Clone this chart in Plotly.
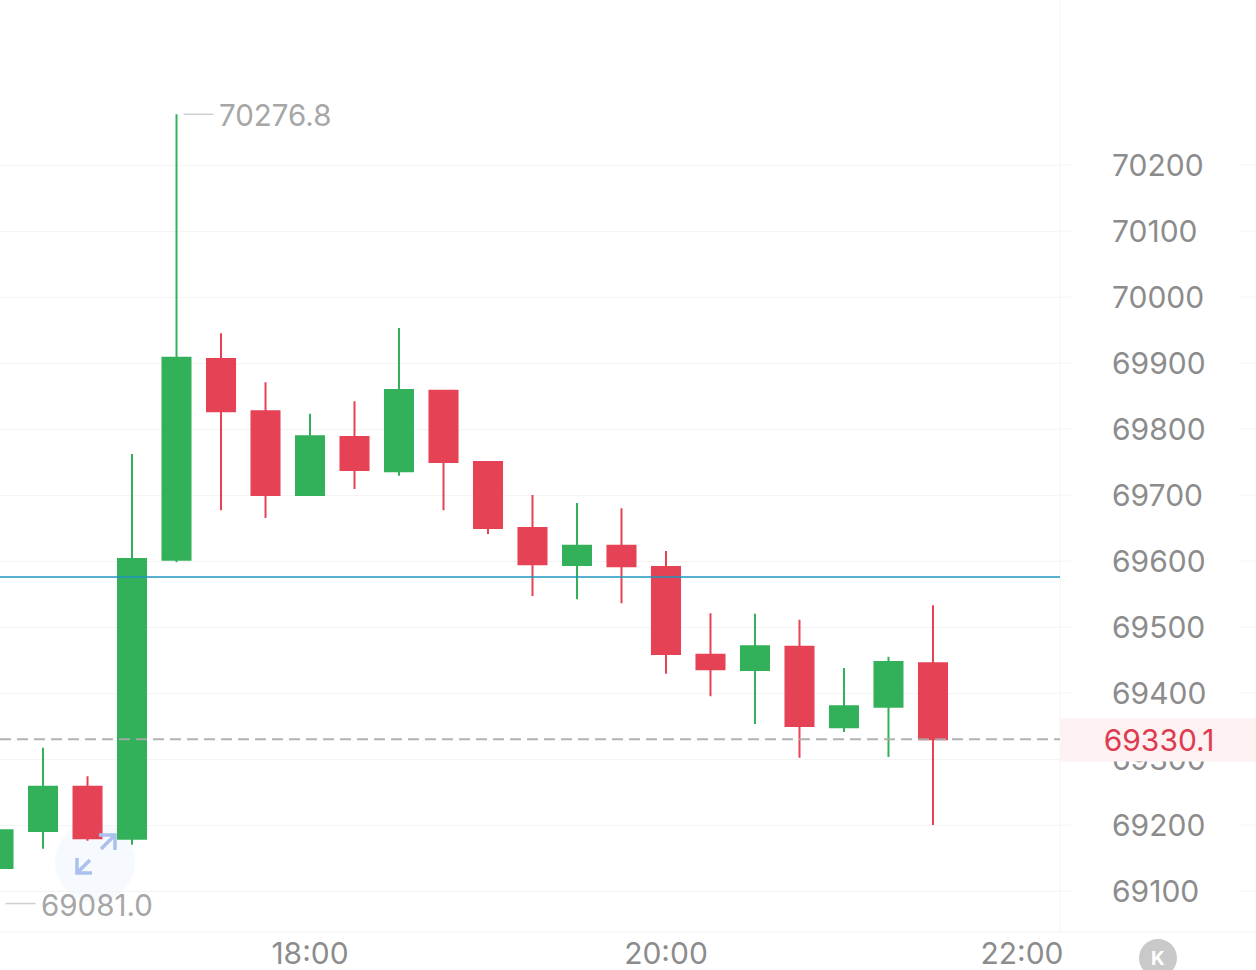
import plotly.graph_objects as go

WIDTH = 1256
HEIGHT = 970
PLOT_RIGHT = 1060
PLOT_BOTTOM = 932

candle_times = [
    "2024-03-10 16:15", "2024-03-10 16:30", "2024-03-10 16:45", "2024-03-10 17:00",
    "2024-03-10 17:15", "2024-03-10 17:30", "2024-03-10 17:45", "2024-03-10 18:00",
    "2024-03-10 18:15", "2024-03-10 18:30", "2024-03-10 18:45", "2024-03-10 19:00",
    "2024-03-10 19:15", "2024-03-10 19:30", "2024-03-10 19:45", "2024-03-10 20:00",
    "2024-03-10 20:15", "2024-03-10 20:30", "2024-03-10 20:45", "2024-03-10 21:00",
    "2024-03-10 21:15", "2024-03-10 21:30",
]
open_values = [
    69135, 69191, 69258, 69179, 69602, 69906, 69827, 69700, 69788, 69736, 69858,
    69750, 69650, 69594, 69623, 69591, 69458, 69435, 69470, 69348, 69379, 69445,
]
close_values = [
    69192, 69258, 69180, 69603, 69908, 69827, 69700, 69789, 69738, 69859, 69750,
    69650, 69595, 69623, 69592, 69459, 69436, 69471, 69350, 69380, 69447, 69330.1,
]
high_values = [
    69192, 69317, 69274, 69762, 70276.8, 69945, 69871, 69823, 69842, 69953, 69858,
    69750, 69700, 69688, 69680, 69615, 69521, 69520, 69511, 69438, 69455, 69533,
]
low_values = [
    69081, 69164, 69176, 69170, 69598, 69677, 69665, 69700, 69709, 69729, 69677,
    69641, 69547, 69542, 69536, 69429, 69395, 69353, 69302, 69341, 69303, 69200,
]
price_ticks = [70200, 70100, 70000, 69900, 69800, 69700, 69600, 69500, 69400, 69300, 69200, 69100]

high_time = "2024-03-10 17:15"
high_price = 70276.8
low_time = "2024-03-10 16:15"
low_price = 69081.0
last_price = 69330.1
reference_price = 69575.8

GREEN = "#33b15a"
RED = "#e64255"
GRID = "#f4f4f4"
TICK_TEXT = "#8c8c8c"
NOTE_TEXT = "#a6a6a6"
FONT = "Inter"


def px(x):
    return x / PLOT_RIGHT


def py(y):
    return 1 - y / PLOT_BOTTOM


def paper_line(x0, y0, x1, y1, color, width):
    return dict(
        type="line", xref="paper", yref="paper",
        x0=px(x0), y0=py(y0), x1=px(x1), y1=py(y1),
        line=dict(color=color, width=width),
    )


def paper_circle(x, y, r, color, layer="below"):
    return dict(
        type="circle", xref="paper", yref="paper", layer=layer,
        x0=px(x - r), y0=py(y - r), x1=px(x + r), y1=py(y + r),
        fillcolor=color, line=dict(width=0),
    )


fig = go.Figure()
fig.add_trace(
    go.Candlestick(
        x=candle_times,
        open=open_values,
        high=high_values,
        low=low_values,
        close=close_values,
        increasing=dict(line=dict(color=GREEN, width=2), fillcolor=GREEN),
        decreasing=dict(line=dict(color=RED, width=2), fillcolor=RED),
        whiskerwidth=0,
        showlegend=False,
        hoverinfo="skip",
    )
)

shapes = []
# grid stubs either side of the price labels
for tick in price_ticks:
    for x0, x1 in [(PLOT_RIGHT, 1072), (1240, WIDTH)]:
        shapes.append(
            dict(type="line", xref="paper", yref="y", x0=px(x0), x1=px(x1), y0=tick, y1=tick,
                 line=dict(color=GRID, width=1))
        )
shapes.append(paper_line(PLOT_RIGHT, 0, PLOT_RIGHT, PLOT_BOTTOM, GRID, 1))
shapes.append(paper_line(0, PLOT_BOTTOM, WIDTH, PLOT_BOTTOM, GRID, 1))
shapes.append(
    dict(type="line", xref="paper", yref="y", x0=0, x1=1,
         y0=reference_price, y1=reference_price, line=dict(color="#1f96c0", width=1.4))
)
shapes.append(
    dict(type="line", xref="paper", yref="y", x0=0, x1=1, y0=last_price, y1=last_price,
         line=dict(color="rgba(170,170,170,0.9)", width=2, dash="11px,6px"))
)
# leader lines for the high and low labels
shapes.append(
    dict(type="line", xref="x", yref="y", xsizemode="pixel", xanchor=high_time,
         x0=7, x1=37, y0=high_price, y1=high_price, line=dict(color="#cfcfcf", width=1.5))
)
shapes.append(
    dict(type="line", xref="x", yref="y", xsizemode="pixel", xanchor=low_time,
         x0=7, x1=37, y0=low_price, y1=low_price, line=dict(color="#cfcfcf", width=1.5))
)
# expand button
shapes.append(paper_circle(95, 862, 40, "#f6f9fe"))
for points in [
    [(99, 835), (115, 835), (115, 850)],
    [(115, 835), (101, 849)],
    [(77, 858), (77, 873), (92, 873)],
    [(77, 873), (90, 860)],
]:
    path = "M " + " L ".join(f"{px(x):.5f} {py(y):.5f}" for x, y in points)
    shapes.append(
        dict(type="path", xref="paper", yref="paper", path=path,
             line=dict(color="#a9c1ec", width=3.5))
    )
# K button
shapes.append(paper_circle(1158, 958, 19, "#c9c9c9"))

annotations = [
    dict(x=high_time, y=high_price, xref="x", yref="y", xanchor="left", yanchor="middle",
         xshift=40, yshift=-1, text="70276.8", showarrow=False,
         font=dict(family=FONT, size=29.5, color=NOTE_TEXT)),
    # the low candle sits just left of the visible range, so this one is placed on paper
    dict(x=px(39), y=low_price, xref="paper", yref="y", xanchor="left", yanchor="middle",
         yshift=-1, text="69081.0", showarrow=False,
         font=dict(family=FONT, size=29.5, color=NOTE_TEXT)),
    dict(x=1, y=last_price, xref="paper", yref="y", xanchor="left", yanchor="middle",
         yshift=-1, width=WIDTH - PLOT_RIGHT, height=42, align="center", bgcolor="#fdf2f1",
         borderpad=0, text="69330.1", showarrow=False,
         font=dict(family=FONT, size=30, color="#df3b50")),
    dict(x=px(1158), y=py(958), xref="paper", yref="paper", xanchor="center", yanchor="middle",
         text="<b>K</b>", showarrow=False, font=dict(family=FONT, size=19, color="#ffffff")),
]

fig.update_layout(
    width=WIDTH,
    height=HEIGHT,
    margin=dict(l=0, r=WIDTH - PLOT_RIGHT, t=0, b=HEIGHT - PLOT_BOTTOM, pad=0),
    paper_bgcolor="#ffffff",
    plot_bgcolor="#ffffff",
    boxgap=0.37,
    boxgroupgap=0,
    shapes=shapes,
    annotations=annotations,
    font=dict(family=FONT, size=30, color=TICK_TEXT),
    xaxis=dict(
        type="date",
        range=["2024-03-10 16:15:30", "2024-03-10 22:12:49"],
        rangeslider=dict(visible=False),
        tick0="2024-03-10 18:00",
        dtick=7200000,
        tickformat="%H:%M",
        showgrid=False,
        zeroline=False,
        showline=False,
        ticks="",
        ticklabelstandoff=1,
        tickfont=dict(family=FONT, size=30, color=TICK_TEXT),
    ),
    yaxis=dict(
        side="right",
        range=[69037.88, 70450],
        tickvals=price_ticks,
        ticktext=[str(t) for t in price_ticks],
        gridcolor=GRID,
        gridwidth=1,
        zeroline=False,
        showline=False,
        ticks="",
        ticklabelstandoff=51,
        automargin=False,
        tickfont=dict(family=FONT, size=30, color=TICK_TEXT),
    ),
)

# browser default body margin would push the chart 8px in
fig.write_html(
    "out.html",
    config={"displayModeBar": False},
    post_script="document.body.style.margin='0';document.body.style.overflow='hidden';",
)
